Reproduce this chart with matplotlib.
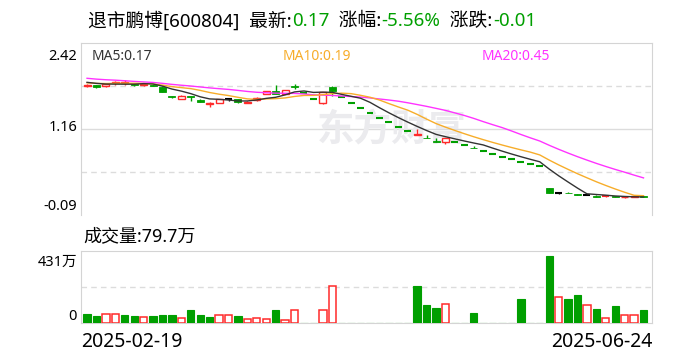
import matplotlib

matplotlib.use("Agg")
import matplotlib.pyplot as plt
import numpy as np
import pandas as pd

plt.rcParams["font.family"] = ["Noto Sans", "Noto Sans CJK SC", "DejaVu Sans"]

RED = "#ff2a2a"
GREEN = "#009f00"
MA_COLORS = {"MA5": "#333333", "MA10": "#f7ad2a", "MA20": "#ff33ff"}

START_DATE = "2025-02-19"
END_DATE = "2025-06-24"
VOL_LAST = "79.7万"
Y_TICK_LABELS = ["2.42", "1.16", "-0.09"]

# closes before the window, only used to seed the moving averages
HIST_CLOSE = [2.02, 2.00, 1.98, 2.01, 1.99, 1.97, 1.95, 1.96, 1.93, 1.90,
              1.86, 1.84, 1.82, 1.83, 1.81, 1.85, 1.87, 1.86, 1.85]

OPEN = [1.79, 1.80, 1.79, 1.83, 1.84, 1.82, 1.80, 1.81, 1.78, 1.64,
        1.61, 1.64, 1.59, 1.535, 1.545, 1.60, 1.60, 1.55, 1.585, 1.675,
        1.725, 1.68, 1.79, 1.69, 1.61, 1.54, 1.78, 1.63, 1.55, 1.47,
        1.40, 1.33, 1.26, 1.20, 1.14, 1.08, 1.035, 0.985, 0.98, 0.98,
        0.93, 0.885, 0.84, 0.80, 0.76, 0.72, 0.683, 0.65, 0.62, 0.30,
        0.23, 0.23, 0.215, 0.205, 0.19, 0.18, 0.18, 0.168, 0.17, 0.18]
HIGH = [1.82, 1.80, 1.83, 1.87, 1.88, 1.83, 1.83, 1.82, 1.79, 1.65,
        1.66, 1.65, 1.60, 1.56, 1.61, 1.62, 1.60, 1.57, 1.63, 1.72,
        1.81, 1.74, 1.82, 1.69, 1.61, 1.70, 1.79, 1.63, 1.55, 1.47,
        1.40, 1.33, 1.26, 1.20, 1.14, 1.17, 1.08, 1.04, 1.03, 0.98,
        0.93, 0.92, 0.84, 0.80, 0.76, 0.72, 0.70, 0.65, 0.62, 0.30,
        0.24, 0.24, 0.22, 0.215, 0.195, 0.185, 0.185, 0.175, 0.185, 0.185]
LOW = [1.78, 1.77, 1.78, 1.81, 1.81, 1.79, 1.79, 1.79, 1.70, 1.62,
       1.60, 1.57, 1.56, 1.48, 1.54, 1.57, 1.54, 1.545, 1.58, 1.67,
       1.675, 1.675, 1.75, 1.69, 1.61, 1.53, 1.64, 1.63, 1.55, 1.47,
       1.40, 1.33, 1.26, 1.20, 1.14, 1.08, 1.03, 0.98, 0.94, 0.98,
       0.93, 0.883, 0.84, 0.80, 0.76, 0.72, 0.683, 0.65, 0.62, 0.225,
       0.22, 0.225, 0.205, 0.20, 0.175, 0.175, 0.17, 0.165, 0.17, 0.17]
CLOSE = [1.80, 1.775, 1.82, 1.855, 1.845, 1.80, 1.815, 1.795, 1.70, 1.63,
         1.65, 1.63, 1.565, 1.545, 1.60, 1.60, 1.56, 1.565, 1.62, 1.715,
         1.68, 1.735, 1.78, 1.69, 1.61, 1.70, 1.72, 1.63, 1.55, 1.47,
         1.40, 1.33, 1.26, 1.20, 1.14, 1.085, 1.03, 0.98, 1.03, 0.98,
         0.93, 0.883, 0.84, 0.80, 0.76, 0.72, 0.683, 0.65, 0.62, 0.23,
         0.23, 0.228, 0.205, 0.205, 0.178, 0.18, 0.17, 0.17, 0.18, 0.17]
# volume, 万
VOLUME = [52, 40, 56, 56, 46, 40, 38, 40, 46, 46,
          32, 76, 46, 34, 50, 50, 40, 22, 32, 22,
          76, 16, 80, 2, 2, 75, 219, 2, 2, 2,
          2, 2, 2, 2, 2, 221, 106, 88, 111, 2,
          2, 58, 2, 2, 2, 2, 142, 2, 2, 401,
          153, 142, 167, 105, 82, 27, 100, 45, 45, 79.7]

Y_MIN, Y_MAX = -0.09, 2.42
VOL_MAX = 431


def _candle_colors(o, c, prev):
    cols = []
    for oo, cc, pp in zip(o, c, prev):
        if cc > oo or (cc == oo and cc > pp):
            cols.append(RED)
        elif cc < oo or cc < pp:
            cols.append(GREEN)
        else:
            cols.append("#000000")
    return np.array(cols)


def main() -> None:
    o, h, l, c = (np.array(a, dtype=float) for a in (OPEN, HIGH, LOW, CLOSE))
    vol = np.array(VOLUME, dtype=float)
    x = np.arange(len(c))
    prev = np.r_[HIST_CLOSE[-1], c[:-1]]

    full = pd.Series(HIST_CLOSE + CLOSE)
    n_hist = len(HIST_CLOSE)
    mas = {f"MA{k}": full.rolling(k).mean().to_numpy()[n_hist:] for k in (5, 10, 20)}

    fig = plt.figure(figsize=(6.88, 3.6), dpi=100)
    W, H = 688, 360
    ax = fig.add_axes([81 / W, 1 - 215 / H, 571 / W, 172 / H])
    axv = fig.add_axes([81 / W, 1 - 323 / H, 571 / W, 72 / H])

    xlim = (-0.64, 59.9)

    # ---- price panel
    ax.set_xlim(*xlim)
    ax.set_ylim(Y_MIN, Y_MAX)
    q = (Y_MAX - Y_MIN) / 4
    for k, ls in ((1, (0, (4, 3))), (2, "-"), (3, (0, (4, 3)))):
        ax.axhline(Y_MIN + k * q, color="#dcdcdc", lw=1, ls=ls, zorder=0)

    # watermark
    ax.text(0.545, 0.495, "东方财富", transform=ax.transAxes, ha="center", va="center",
            fontsize=27, fontweight="bold", color="#ebebee", zorder=0,
            family=["Noto Sans CJK SC"])

    cols = _candle_colors(o, c, prev)
    ax.vlines(x, l, h, colors=cols, lw=1, zorder=2)
    bw = 0.74
    up = c > o
    ax.bar(x[up], (c - o)[up], bottom=o[up], width=bw, facecolor="white",
           edgecolor=RED, lw=1, zorder=3)
    dn = c < o
    ax.bar(x[dn], (o - c)[dn], bottom=c[dn], width=bw, color=GREEN,
           edgecolor=GREEN, lw=0.6, zorder=3)
    fl = c == o
    ax.hlines(c[fl], x[fl] - bw / 2, x[fl] + bw / 2, colors=cols[fl], lw=1.5, zorder=3)

    for name in ("MA20", "MA10", "MA5"):
        ax.plot(x, mas[name], color=MA_COLORS[name], lw=1, zorder=4)

    for name, xp in (("MA5", 92), ("MA10", 283), ("MA20", 482)):
        ax.text((xp - 81) / 571, 0.92, f"{name}:{mas[name][-1]:.2f}", transform=ax.transAxes,
                ha="left", va="center", fontsize=10, color=MA_COLORS[name])

    ax.set_xticks([])
    ax.set_yticks([])
    for side, sp in ax.spines.items():
        sp.set_color("#d4d4d4")
        sp.set_visible(side != "bottom")

    for lab, yp in zip(Y_TICK_LABELS, (56, 127, 206)):
        fig.text(77 / W, 1 - yp / H, lab, ha="right", va="center", fontsize=10.5)

    # ---- volume panel
    axv.set_xlim(*xlim)
    axv.set_ylim(0, VOL_MAX)
    axv.axhline(VOL_MAX / 2, color="#dcdcdc", lw=1, ls=(0, (4, 3)), zorder=0)
    vup = c >= prev
    axv.bar(x[vup], vol[vup], width=0.78, facecolor="white", edgecolor=RED, lw=1.1, zorder=3)
    axv.bar(x[~vup], vol[~vup], width=0.78, color=GREEN, edgecolor=GREEN, lw=0.8, zorder=3)
    axv.set_xticks([])
    axv.set_yticks([])
    for sp in axv.spines.values():
        sp.set_color("#d4d4d4")

    fig.text(83 / W, 1 - 236 / H, f"成交量:{VOL_LAST}", ha="left", va="center", fontsize=13)
    fig.text(77 / W, 1 - 262 / H, f"{VOL_MAX}万", ha="right", va="center", fontsize=10.5)
    fig.text(77 / W, 1 - 316 / H, "0", ha="right", va="center", fontsize=10.5)

    fig.text(81 / W, 1 - 342 / H, START_DATE, ha="left", va="center", fontsize=14)
    fig.text(652 / W, 1 - 342 / H, END_DATE, ha="right", va="center", fontsize=14)

    # ---- header line, pieces chained left to right
    pieces = [("退市鹏博[600804]  最新:", "black"), ("0.17", GREEN), ("  涨幅:", "black"),
              ("-5.56%", GREEN), ("  涨跌:", "black"), ("-0.01", GREEN)]
    renderer = fig.canvas.get_renderer()
    xpos = 88
    for s, col in pieces:
        t = fig.text(xpos / W, 1 - 21 / H, s, ha="left", va="center", fontsize=13.5, color=col)
        bb = t.get_window_extent(renderer=renderer)
        xpos = bb.x1

    fig.savefig("out.png", dpi=100)
    plt.close(fig)


if __name__ == "__main__":
    main()
